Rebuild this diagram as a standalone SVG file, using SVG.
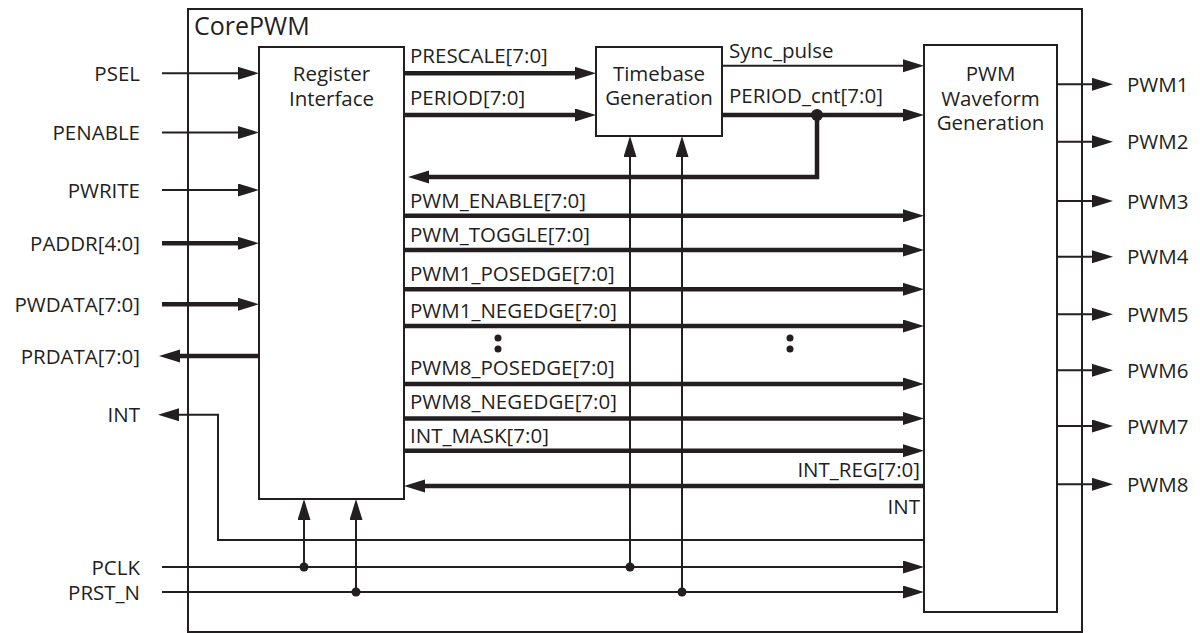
<svg xmlns="http://www.w3.org/2000/svg" width="1200" height="633" viewBox="0 0 1200 633">
<defs>
<marker id="ah" markerUnits="userSpaceOnUse" markerWidth="22" markerHeight="14" refX="11" refY="6.5" orient="auto"><path d="M0,0 L21,6.5 L0,13 z" fill="#231f20"/></marker>
<style>
text{font-family:"Open Sans","Liberation Sans",Arial,sans-serif;font-size:20.5px;fill:#231f20}
.r{text-anchor:end}
.m{text-anchor:middle}
.box{fill:#fff;stroke:#231f20;stroke-width:2}
.t{fill:none;stroke:#231f20;stroke-width:2}
.k{fill:none;stroke:#231f20;stroke-width:4.5}
.a{marker-end:url(#ah)}
.d{fill:#231f20}
</style>
</defs>
<rect width="1200" height="633" fill="#fff"/>
<g id="corepwm"><rect x="188" y="9" width="894" height="623" fill="none" stroke="#231f20" stroke-width="2"/><text x="194" y="35" style="font-size:25px">CorePWM</text></g>
<g id="register-interface"><rect class="box" x="259" y="47" width="145" height="452"/><text class="m" x="331.5" y="81">Register</text><text class="m" x="331.5" y="106">Interface</text></g>
<g id="timebase"><rect class="box" x="596" y="47" width="126" height="89"/><text class="m" x="659" y="81">Timebase</text><text class="m" x="659" y="105">Generation</text></g>
<g id="pwm-gen"><rect class="box" x="924" y="45" width="133" height="567"/><text class="m" x="990.5" y="81">PWM</text><text class="m" x="990.5" y="106">Waveform</text><text class="m" x="990.5" y="130">Generation</text></g>
<g id="connectors">
<path class="t a" d="M162,73.3 H249"/>
<path class="t a" d="M162,132.5 H249"/>
<path class="t a" d="M162,190 H249"/>
<path class="k a" d="M162,243.3 H249"/>
<path class="k a" d="M162,304.3 H249"/>
<path class="k a" d="M259,356 H169"/>
<path class="t a" d="M924,540 H218 V414.7 H168"/>
<path class="t a" d="M162,567 H914"/>
<path class="t a" d="M162,592 H914"/>
<path class="t a" d="M304,567 V509"/>
<path class="t a" d="M356,592 V509"/>
<path class="t a" d="M630,567 V146"/>
<path class="t a" d="M682,592 V146"/>
<circle class="d" cx="304" cy="567" r="4.5"/>
<circle class="d" cx="356" cy="592" r="4.5"/>
<circle class="d" cx="630" cy="567" r="4.5"/>
<circle class="d" cx="682" cy="592" r="4.5"/>
<path class="k a" d="M404,73.3 H586"/>
<path class="k a" d="M404,115 H586"/>
<path class="t a" d="M722,65.7 H914"/>
<path class="k a" d="M722,115 H914"/>
<path class="k a" d="M817,115 V177 H418"/>
<circle class="d" cx="817" cy="115" r="6"/>
<path class="k a" d="M404,215.7 H914"/>
<path class="k a" d="M404,250 H914"/>
<path class="k a" d="M404,289.3 H914"/>
<path class="k a" d="M404,326 H914"/>
<path class="k a" d="M404,384 H914"/>
<path class="k a" d="M404,418.5 H914"/>
<path class="k a" d="M404,450.7 H914"/>
<path class="k a" d="M924,486 H414"/>
<path class="t a" d="M1057,84.3 H1103"/>
<path class="t a" d="M1057,141.7 H1103"/>
<path class="t a" d="M1057,201 H1103"/>
<path class="t a" d="M1057,256.7 H1103"/>
<path class="t a" d="M1057,314.3 H1103"/>
<path class="t a" d="M1057,370.3 H1103"/>
<path class="t a" d="M1057,426 H1103"/>
<path class="t a" d="M1057,484.3 H1103"/>
<circle class="d" cx="498" cy="338" r="3.5"/><circle class="d" cx="498" cy="349" r="3.5"/>
<circle class="d" cx="790" cy="338" r="3.5"/><circle class="d" cx="790" cy="349" r="3.5"/>
</g>
<g id="labels">
<text class="r" x="140" y="81">PSEL</text>
<text class="r" x="140" y="140">PENABLE</text>
<text class="r" x="140" y="197.5">PWRITE</text>
<text class="r" x="140" y="251">PADDR[4:0]</text>
<text class="r" x="140" y="312">PWDATA[7:0]</text>
<text class="r" x="140" y="363.5">PRDATA[7:0]</text>
<text class="r" x="140" y="422">INT</text>
<text class="r" x="140" y="574.5">PCLK</text>
<text class="r" x="140" y="599.5">PRST_N</text>
<text x="410" y="63">PRESCALE[7:0]</text>
<text x="410" y="105">PERIOD[7:0]</text>
<text x="729" y="58">Sync_pulse</text>
<text x="729" y="103">PERIOD_cnt[7:0]</text>
<text x="410" y="208">PWM_ENABLE[7:0]</text>
<text x="410" y="242">PWM_TOGGLE[7:0]</text>
<text x="410" y="281">PWM1_POSEDGE[7:0]</text>
<text x="410" y="317.5">PWM1_NEGEDGE[7:0]</text>
<text x="410" y="375">PWM8_POSEDGE[7:0]</text>
<text x="410" y="409">PWM8_NEGEDGE[7:0]</text>
<text x="410" y="443">INT_MASK[7:0]</text>
<text class="r" x="920" y="477">INT_REG[7:0]</text>
<text class="r" x="920" y="514">INT</text>
<text x="1127" y="92">PWM1</text>
<text x="1127" y="149">PWM2</text>
<text x="1127" y="208.5">PWM3</text>
<text x="1127" y="264">PWM4</text>
<text x="1127" y="321.5">PWM5</text>
<text x="1127" y="377.5">PWM6</text>
<text x="1127" y="433.5">PWM7</text>
<text x="1127" y="491.5">PWM8</text>
</g>
</svg>
